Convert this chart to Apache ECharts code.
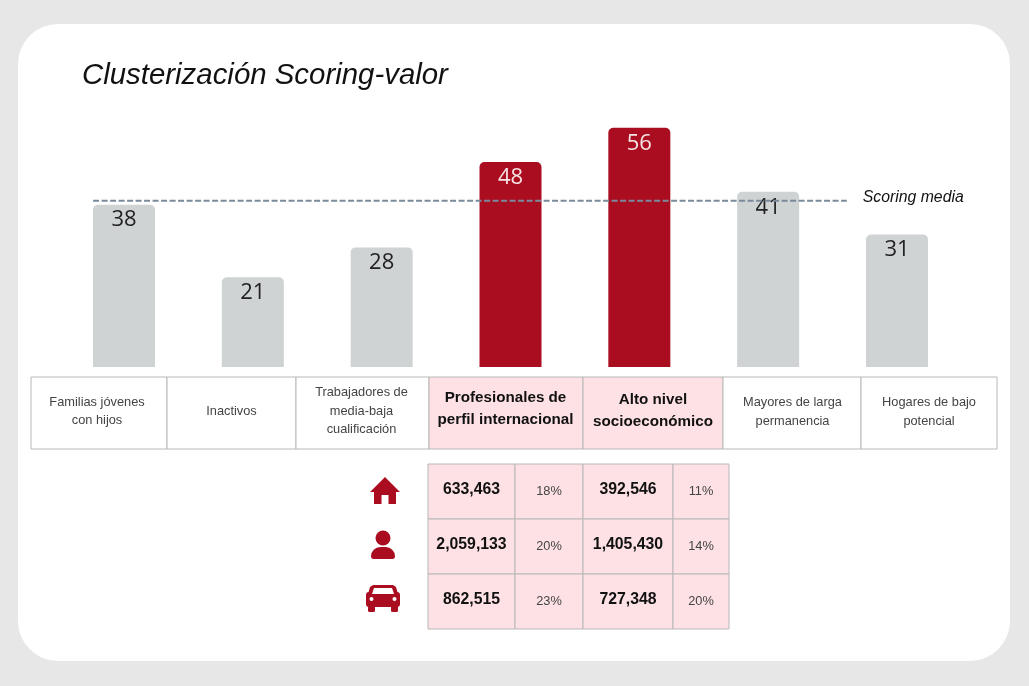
<!DOCTYPE html>
<html><head><meta charset="utf-8">
<style>html,body{margin:0;padding:0;background:#e7e7e7}#c{width:1029px;height:686px}</style>
<script src="https://cdn.jsdelivr.net/npm/echarts@6/dist/echarts.min.js"></script>
</head><body><div id="c"></div>
<script>
const titleText = 'Clusterización Scoring-valor';
const categories = ['Familias jóvenes\ncon hijos','Inactivos','Trabajadores de\nmedia-baja\ncualificación','Profesionales de\nperfil internacional','Alto nivel\nsocioeconómico','Mayores de larga\npermanencia','Hogares de bajo\npotencial'];
const scores = [38,21,28,48,56,41,31];
const highlighted = [3,4];
const scoringMedia = 38.9;
const scoringLabel = 'Scoring media';
const tableRows = [
  ['633,463','18%','392,546','11%'],
  ['2,059,133','20%','1,405,430','14%'],
  ['862,515','23%','727,348','20%']
];

const RED='#ab0d20', GREY='#cfd3d4', PINK='#fde1e5', BORDER='#b8b8b8';
const SANS='"Liberation Sans",Arial,sans-serif';
const g=[];
g.push({type:'rect',z:-10,silent:true,shape:{x:18,y:24,width:992,height:637,r:40},style:{fill:'#fff'}});
g.push({type:'text',style:{text:titleText,x:82,y:76,verticalAlign:'middle',font:'italic 29.4px '+SANS,fill:'#111'}});

// category strip
const xs=[31,167,296,429,583,723,861,997];
const textX=[97,231.5,361.5,505.5,653,792.5,929];
const textY=[411.5,411.5,411,409,411,412,412];
categories.forEach((c,i)=>{
  const hi=highlighted.includes(i);
  g.push({type:'rect',shape:{x:xs[i],y:377,width:xs[i+1]-xs[i],height:72},style:{fill:hi?PINK:'#fff',stroke:BORDER,lineWidth:1}});
  g.push({type:'text',z:5,style:{text:c,x:textX[i],y:textY[i],align:'center',verticalAlign:'middle',
    font:(hi?'bold 15.2px ':'12.8px ')+SANS,lineHeight:hi?22:18.5,fill:hi?'#111':'#444'}});
});

// figures table
const tx=[428,515,583,673,729], ty=[464,519,574,629];
tableRows.forEach((row,r)=>row.forEach((v,k)=>{
  const num=k%2===0;
  g.push({type:'rect',shape:{x:tx[k],y:ty[r],width:tx[k+1]-tx[k],height:ty[r+1]-ty[r]},style:{fill:PINK,stroke:BORDER,lineWidth:1}});
  g.push({type:'text',z:5,style:{text:v,x:(tx[k]+tx[k+1])/2,y:ty[r]+(num?25.5:27),align:'center',verticalAlign:'middle',
    font:(num?'bold 15.8px ':'12.8px ')+SANS,fill:num?'#111':'#444'}});
}));

// icons
g.push({type:'polygon',shape:{points:[[385,477],[400,492],[396,492],[396,504],[388.5,504],[388.5,495],[381.5,495],[381.5,504],[374,504],[374,492],[370,492]]},style:{fill:RED}});
g.push({type:'circle',shape:{cx:383,cy:538,r:7.5},style:{fill:RED}});
g.push({type:'rect',shape:{x:371,y:547,width:24,height:12,r:[10,10,3,3]},style:{fill:RED}});
g.push({type:'polygon',shape:{points:[[373,585],[393,585],[396,587],[398,594],[368,594],[370,587]]},style:{fill:RED}});
g.push({type:'rect',shape:{x:366,y:592,width:34,height:15,r:3},style:{fill:RED}});
g.push({type:'rect',shape:{x:368,y:605,width:7,height:7,r:1.5},style:{fill:RED}});
g.push({type:'rect',shape:{x:391,y:605,width:7,height:7,r:1.5},style:{fill:RED}});
g.push({type:'polygon',z:6,shape:{points:[[374,588],[392,588],[394,594],[372,594]]},style:{fill:'#fff'}});
g.push({type:'circle',z:6,shape:{cx:371.5,cy:599,r:2},style:{fill:'#fff'}});
g.push({type:'circle',z:6,shape:{cx:394.5,cy:599,r:2},style:{fill:'#fff'}});

const chart=echarts.init(document.getElementById('c'),null,{renderer:'canvas'});
chart.setOption({
  animation:false,
  backgroundColor:'#e7e7e7',
  textStyle:{fontFamily:SANS},
  grid:{left:59.6,right:67.6,top:68,height:299},
  xAxis:[
    {type:'category',data:categories,axisLine:{show:false},axisTick:{show:false},axisLabel:{show:false},splitLine:{show:false}},
    {type:'value',min:-0.5,max:6.5,show:false,splitLine:{show:false}}
  ],
  yAxis:{type:'value',min:0,max:70,show:false,splitLine:{show:false}},
  graphic:g,
  series:[
    {type:'bar',barWidth:62,z:3,
     data:scores.map((v,i)=>({value:v,itemStyle:{color:highlighted.includes(i)?RED:GREY}, 
        label:{color:highlighted.includes(i)?'#f6e3e3':'#222'}})),
     itemStyle:{borderRadius:[5,5,0,0]},
     label:{show:true,position:'insideTop',distance:4.5,fontFamily:'"Open Sans"',fontSize:22}},
    {type:'line',xAxisIndex:1,z:4,symbol:'none',silent:true,
     data:[[-0.24,scoringMedia],[5.61,scoringMedia]],
     lineStyle:{color:'#7b8a9a',width:2,type:[6,2.5]},
     endLabel:{show:true,formatter:scoringLabel,distance:16,offset:[0,-3],color:'#111',fontStyle:'italic',fontSize:15.8,fontFamily:SANS}}
  ]
});
</script></body></html>
